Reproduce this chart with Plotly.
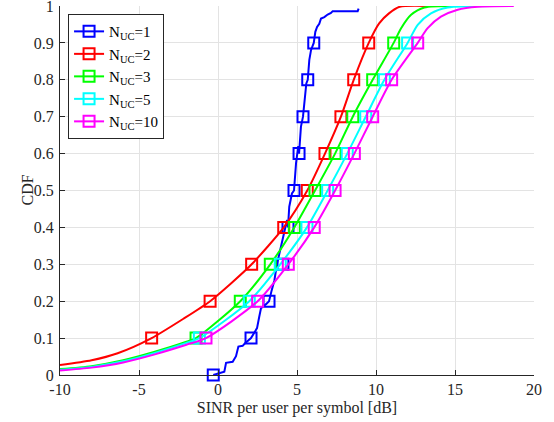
import plotly.graph_objects as go

# ---------------- data ----------------
marker_levels = [0.0, 0.1, 0.2, 0.3, 0.4, 0.5, 0.6, 0.7, 0.8, 0.9]

# N_UC = 1 : empirical (staircase-like) CDF
b_x = [-0.30, 0.40, 0.51, 0.93, 1.14, 1.29, 1.56, 1.71, 2.09, 2.20, 2.47, 2.61, 2.72, 3.04, 3.23,
       3.40, 3.57, 3.73, 3.90, 4.09, 4.24, 4.37, 4.43, 4.51, 4.68, 4.81, 4.94, 5.08, 5.13, 5.25, 5.38,
       5.51, 5.59, 5.68, 5.78, 5.89, 6.06, 6.16, 6.27, 6.41, 6.52, 6.73, 6.94, 7.15, 7.26, 8.84, 8.90]
b_y = [0.0, 0.009, 0.033, 0.036, 0.051, 0.077, 0.079, 0.086, 0.1, 0.108, 0.127, 0.158, 0.181, 0.192, 0.2,
       0.230, 0.257, 0.3, 0.334, 0.370, 0.393, 0.42, 0.4, 0.456, 0.492, 0.5, 0.574, 0.62, 0.6, 0.673, 0.7,
       0.754, 0.790, 0.8, 0.854, 0.881, 0.9, 0.930, 0.943, 0.952, 0.966, 0.970, 0.977, 0.981, 0.986, 0.986, 0.993]
b_mx = [-0.30, 2.09, 3.23, 4.11, 4.43, 4.81, 5.13, 5.38, 5.68, 6.06]

# N_UC = 2
r_x = [-10.0, -8.0, -6.35, -4.20, -2.13, -0.50, 0.82, 2.13, 4.16, 5.65, 6.77, 7.78, 8.59, 9.54, 10.20, 10.82, 11.50, 13.33]
r_y = [0.027, 0.040, 0.059, 0.1, 0.154, 0.2, 0.248, 0.3, 0.4, 0.5, 0.6, 0.7, 0.8, 0.9, 0.953, 0.980, 0.998, 1.0]
r_mx = [-4.20, -0.50, 2.13, 4.16, 5.65, 6.77, 7.78, 8.59, 9.54]

# N_UC = 3
g_x = [-10.0, -8.0, -6.0, -4.0, -2.0, -1.39, 1.41, 3.31, 4.83, 6.14, 7.41, 8.53, 9.79, 11.12, 11.58, 12.22, 13.06, 15.38]
g_y = [0.016, 0.024, 0.040, 0.063, 0.090, 0.1, 0.2, 0.3, 0.4, 0.5, 0.6, 0.7, 0.8, 0.9, 0.939, 0.976, 0.996, 1.0]
g_mx = [-1.39, 1.41, 3.31, 4.83, 6.14, 7.41, 8.53, 9.79, 11.12]

# N_UC = 5
c_x = [-10.0, -8.0, -6.0, -4.0, -2.0, -1.18, 1.98, 3.94, 5.63, 6.94, 8.18, 9.35, 10.53, 12.00, 12.64, 13.48, 14.54, 17.28]
c_y = [0.014, 0.022, 0.037, 0.060, 0.087, 0.1, 0.2, 0.3, 0.4, 0.5, 0.6, 0.7, 0.8, 0.9, 0.949, 0.980, 0.996, 1.0]
c_mx = [-1.18, 1.98, 3.94, 5.63, 6.94, 8.18, 9.35, 10.53, 12.00]

# N_UC = 10
m_x = [-10.0, -8.0, -6.0, -4.0, -2.0, -0.76, 2.51, 4.45, 6.09, 7.41, 8.63, 9.79, 10.99, 12.64, 13.27, 14.11, 15.17, 16.44, 18.72]
m_y = [0.012, 0.020, 0.034, 0.056, 0.082, 0.1, 0.2, 0.3, 0.4, 0.5, 0.6, 0.7, 0.8, 0.9, 0.940, 0.971, 0.990, 0.998, 1.0]
m_mx = [-0.76, 2.51, 4.45, 6.09, 7.41, 8.63, 9.79, 10.99, 12.64]

labels = ["N<sub>UC</sub>=1", "N<sub>UC</sub>=2", "N<sub>UC</sub>=3", "N<sub>UC</sub>=5", "N<sub>UC</sub>=10"]
colors = ["#0000FF", "#FF0000", "#00FF00", "#00FFFF", "#FF00FF"]

x_ticks = [-10, -5, 0, 5, 10, 15, 20]
y_ticks = [0, 0.1, 0.2, 0.3, 0.4, 0.5, 0.6, 0.7, 0.8, 0.9, 1]
x_title = "SINR per user per symbol [dB]"
y_title = "CDF"

series = [
    (b_x, b_y, b_mx, marker_levels, "linear"),
    (r_x, r_y, r_mx, marker_levels[1:], "spline"),
    (g_x, g_y, g_mx, marker_levels[1:], "spline"),
    (c_x, c_y, c_mx, marker_levels[1:], "spline"),
    (m_x, m_y, m_mx, marker_levels[1:], "spline"),
]

FONT = "Liberation Serif"
TXT = "#262626"
GRID = "#e3e3e3"
fig = go.Figure()
for (xs, ys, mx, my, shape), col, lab in zip(series, colors, labels):
    fig.add_trace(go.Scatter(x=xs, y=ys, mode="lines", line=dict(color=col, width=2, shape=shape, smoothing=0.7),
                             showlegend=False, hoverinfo="skip"))
    fig.add_trace(go.Scatter(x=mx, y=my, mode="markers", cliponaxis=False,
                             marker=dict(symbol="square-open", size=11, color=col, line=dict(color=col, width=2)),
                             showlegend=False))
for col, lab in zip(colors, labels):
    fig.add_trace(go.Scatter(x=[None], y=[None], mode="lines+markers", name=lab,
                             line=dict(color=col, width=2),
                             marker=dict(symbol="square-open", size=11, color=col, line=dict(color=col, width=2))))

axis_common = dict(showgrid=True, gridcolor=GRID, gridwidth=1, zeroline=False,
                   showline=True, linecolor=TXT, linewidth=1, ticks="inside", ticklen=5,
                   tickcolor=TXT, tickfont=dict(family=FONT, size=16, color=TXT),
                   ticklabeloverflow="allow", automargin=False)

fig.update_layout(
    width=554, height=422,
    margin=dict(l=60, r=20, t=6, b=47, autoexpand=False),
    paper_bgcolor="white", plot_bgcolor="white",
    font=dict(family=FONT, size=16, color=TXT),
    xaxis=dict(range=[-10, 20], tickvals=x_ticks, ticktext=[str(v) for v in x_ticks],
               title=dict(text=x_title, font=dict(family=FONT, size=16, color=TXT), standoff=4),
               **axis_common),
    yaxis=dict(range=[0, 1], tickvals=y_ticks, ticktext=["0" if v == 0 else ("1" if v == 1 else str(v)) for v in y_ticks],
               ticklabelstandoff=2,
               **axis_common),
    annotations=[dict(text=y_title, xref="paper", yref="paper", x=(27 - 60) / 474, y=0.5,
                      xanchor="center", yanchor="middle", textangle=-90, showarrow=False,
                      font=dict(family=FONT, size=16, color=TXT))],
    legend=dict(x=0.017, y=0.978, xanchor="left", yanchor="top", bgcolor="white",
                bordercolor=TXT, borderwidth=1, font=dict(family=FONT, size=15, color="black"),
                tracegroupgap=0, itemwidth=30),
)

fig.write_html("out.html")
